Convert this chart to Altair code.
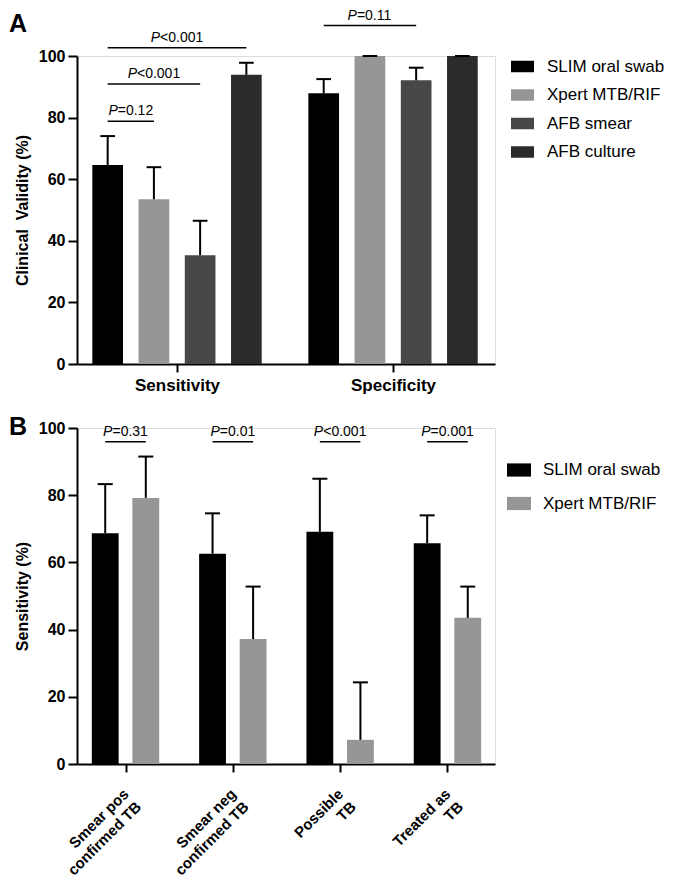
import altair as alt
import pandas as pd

FONT = "Liberation Sans"

# ---------------- Panel A data ----------------
groups_a = ["Sensitivity", "Specificity"]
series_a = ["SLIM oral swab", "Xpert MTB/RIF", "AFB smear", "AFB culture"]
colors_a = ["#000000", "#969696", "#474747", "#2b2b2b"]
sens_values = [64.6, 53.5, 35.3, 93.9]
sens_upper = [74.0, 63.9, 46.5, 97.8]
spec_values = [87.9, 100.0, 92.1, 100.0]
spec_upper = [92.5, 100.0, 96.2, 100.0]

# significance brackets A: group, series from, series to, level, label
sig_a_group = ["Sensitivity", "Sensitivity", "Sensitivity", "Specificity"]
sig_a_from = [0, 0, 0, 0]
sig_a_to = [1, 2, 3, 2]
sig_a_level = [78.8, 90.9, 102.7, 109.9]
sig_a_label = ["=0.12", "<0.001", "<0.001", "=0.11"]

# ---------------- Panel B data ----------------
groups_b = [["Smear pos", "confirmed TB"], ["Smear neg", "confirmed TB"],
            ["Possible", "TB"], ["Treated as", "TB"]]
series_b = ["SLIM oral swab", "Xpert MTB/RIF"]
colors_b = ["#000000", "#969696"]
slim_b = [68.7, 62.6, 69.1, 65.7]
slim_b_upper = [83.3, 74.6, 84.9, 74.0]
xpert_b = [79.2, 37.2, 7.2, 43.5]
xpert_b_upper = [91.5, 52.8, 24.3, 52.8]
sig_b_label = ["=0.31", "=0.01", "<0.001", "=0.001"]
sig_b_level = [95.9, 95.9, 95.9, 95.9]

panel_letters = ["A", "B"]

# ---------------- layout parameters ----------------
A_PITCH = 0.214      # series spacing within group (group units)
A_HALF = 0.071       # bar half width
A_CAP = 0.034        # cap half width
A_DOMAIN = [-0.463, 1.472]
B_PITCH = 0.378
B_HALF = 0.125
B_CAP = 0.07
B_DOMAIN = [-0.452, 3.443]
PLOT_W = 418


def build_a():
    rows = []
    for gi, (vals, ups) in enumerate([(sens_values, sens_upper), (spec_values, spec_upper)]):
        for si, s in enumerate(series_a):
            rows.append({"group": gi, "series": s, "si": si,
                         "value": vals[si], "upper": ups[si]})
    df = pd.DataFrame(rows)
    df["pos"] = df["group"] + (df["si"] - 1.5) * A_PITCH
    df["xl"] = df["pos"] - A_HALF
    df["xr"] = df["pos"] + A_HALF
    df["cl"] = df["pos"] - A_CAP
    df["cr"] = df["pos"] + A_CAP
    sig = pd.DataFrame({"g": [groups_a.index(g) for g in sig_a_group],
                        "a": sig_a_from, "b": sig_a_to,
                        "level": sig_a_level, "label": sig_a_label})
    sig["x1"] = sig["g"] + (sig["a"] - 1.5) * A_PITCH
    sig["x2"] = sig["g"] + (sig["b"] - 1.5) * A_PITCH
    sig["mid"] = (sig["x1"] + sig["x2"]) / 2
    return df, sig


def build_b():
    rows = []
    for gi in range(len(groups_b)):
        for si, (vals, ups) in enumerate([(slim_b, slim_b_upper), (xpert_b, xpert_b_upper)]):
            rows.append({"group": gi, "series": series_b[si], "si": si,
                         "value": vals[gi], "upper": ups[gi]})
    df = pd.DataFrame(rows)
    df["pos"] = df["group"] + (df["si"] - 0.5) * B_PITCH
    df["xl"] = df["pos"] - B_HALF
    df["xr"] = df["pos"] + B_HALF
    df["cl"] = df["pos"] - B_CAP
    df["cr"] = df["pos"] + B_CAP
    sig = pd.DataFrame({"g": list(range(len(groups_b))),
                        "level": sig_b_level, "label": sig_b_label})
    sig["x1"] = sig["g"] - 0.5 * B_PITCH
    sig["x2"] = sig["g"] + 0.5 * B_PITCH
    sig["mid"] = sig["g"]
    return df, sig


def p_dx(label, fs=14):
    # widths of Arial glyphs (em)
    w = {"P": 0.667, "=": 0.584, "<": 0.584, "0": 0.556, "1": 0.556, "2": 0.556,
         "3": 0.556, ".": 0.278}
    wp = w["P"] * fs
    wr = sum(w[c] for c in label) * fs
    return wp - (wp + wr) / 2


def panel(df, sig, series, colors, domain, x_values, label_expr, x_label_cfg,
          y_title, height, legend_cfg, letter, letter_y):
    xs = alt.Scale(domain=domain, nice=False, zero=False)
    ys = alt.Scale(domain=[0, 100], nice=False)
    x_axis = alt.Axis(values=x_values, labelExpr=label_expr, title=None,
                      grid=False, domainColor="black", domainWidth=2,
                      tickColor="black", tickWidth=2, tickSize=8,
                      labelColor="black", labelFont=FONT, labelFontWeight="bold",
                      **x_label_cfg)
    y_axis = alt.Axis(values=[0, 20, 40, 60, 80, 100], title=y_title, grid=False,
                      domainColor="black", domainWidth=2, tickColor="black",
                      tickWidth=2, tickSize=9, labelPadding=3,
                      labelFont=FONT, labelFontSize=16, labelFontWeight="bold",
                      labelColor="black", titleFont=FONT, titleFontSize=16,
                      titleFontWeight="bold", titleColor="black", titlePadding=8)
    base = alt.Chart(df)
    bars = base.mark_rect().encode(
        x=alt.X("xl:Q", scale=xs, axis=x_axis),
        x2="xr:Q",
        y=alt.Y("value:Q", scale=ys, axis=y_axis),
        y2=alt.datum(0),
        color=alt.Color("series:N", scale=alt.Scale(domain=series, range=colors),
                        legend=legend_cfg),
    )
    err = base.mark_rule(color="black", strokeWidth=2).encode(
        x="pos:Q", y="value:Q", y2="upper:Q")
    cap = base.mark_rule(color="black", strokeWidth=2).encode(
        x="cl:Q", x2="cr:Q", y="upper:Q")
    sbase = alt.Chart(sig)
    lines = sbase.mark_rule(color="black", strokeWidth=1.5).encode(
        x="x1:Q", x2="x2:Q", y="level:Q")
    layers = [bars, err, cap, lines]
    for lab in sig["label"].unique():
        dx = p_dx(lab)
        sub = sbase.transform_filter(alt.datum.label == lab)
        layers.append(sub.mark_text(text="P", font=FONT, fontSize=14, fontStyle="italic",
                                    align="right", baseline="alphabetic", dy=-6, dx=dx,
                                    color="black").encode(x="mid:Q", y="level:Q"))
        layers.append(sub.mark_text(font=FONT, fontSize=14, align="left",
                                    baseline="alphabetic", dy=-6, dx=dx,
                                    color="black").encode(x="mid:Q", y="level:Q",
                                                          text="label:N"))
    letter_layer = alt.Chart(pd.DataFrame({"letter": [letter]})).mark_text(
        font=FONT, fontSize=25, fontWeight="bold", align="left",
        baseline="alphabetic", color="black"
    ).encode(text="letter:N", x=alt.value(-68), y=alt.value(letter_y))
    layers.append(letter_layer)
    return alt.layer(*layers).properties(width=PLOT_W, height=height)


df_a, sig_a = build_a()
df_b, sig_b = build_b()

label_expr_a = "[" + ",".join("'" + g + "'" for g in groups_a) + "][datum.value]"
label_expr_b = "[" + ",".join("['" + g[0] + "','" + g[1] + "']" for g in groups_b) + "][datum.value]"

legend_a = alt.Legend(title=None, orient="none", legendX=434, legendY=-1,
                      direction="vertical", symbolType="M-1,-0.5H1V0.5H-1Z",
                      symbolSize=529, symbolStrokeWidth=0, symbolOpacity=1,
                      labelFont=FONT, labelFontSize=17, labelColor="black",
                      labelOffset=13, rowPadding=8.5, padding=0, labelLimit=300)
legend_b = alt.Legend(title=None, orient="none", legendX=430, legendY=30,
                      direction="vertical", symbolType="M-1,-0.55H1V0.55H-1Z",
                      symbolSize=576, symbolStrokeWidth=0, symbolOpacity=1,
                      labelFont=FONT, labelFontSize=17, labelColor="black",
                      labelOffset=12, rowPadding=13.5, padding=0, labelLimit=300)

chart_a = panel(df_a, sig_a, series_a, colors_a, A_DOMAIN, [0, 1], label_expr_a,
                {"labelFontSize": 17, "labelPadding": 5},
                "Clinical\u00a0 Validity (%)", 308, legend_a, panel_letters[0], -24)
chart_b = panel(df_b, sig_b, series_b, colors_b, B_DOMAIN, [0, 1, 2, 3], label_expr_b,
                {"labelFontSize": 15, "labelAngle": -45, "labelAlign": "right",
                 "labelBaseline": "middle", "labelPadding": 19, "labelLineHeight": 18},
                "Sensitivity (%)", 336, legend_b, panel_letters[1], 7)

chart = alt.vconcat(chart_a, chart_b, spacing=64, bounds="flush").resolve_scale(
    color="independent"
).resolve_legend(color="independent").properties(
    padding={"left": 0, "top": 0, "right": 0, "bottom": 0}
).configure_view(stroke=None).configure(font=FONT)

chart.save("out.html", embed_options={"renderer": "svg", "actions": False})
